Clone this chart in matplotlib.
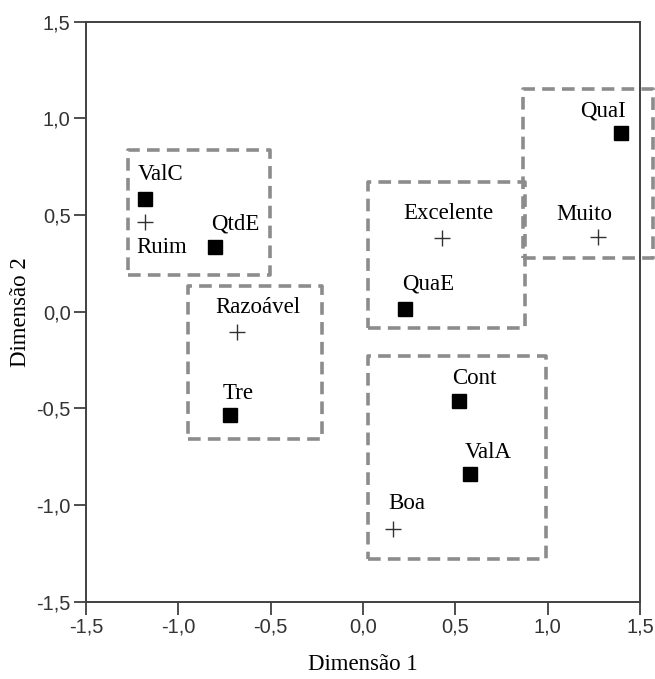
import matplotlib.pyplot as plt
from matplotlib.patches import Rectangle
from matplotlib.ticker import FuncFormatter

# pontos (categorias de resposta = +, variaveis = quadrado)
var_nomes = ['ValC', 'QtdE', 'Tre', 'QuaI', 'QuaE', 'Cont', 'ValA']
var_x = [-1.18, -0.80, -0.72, 1.395, 0.227, 0.518, 0.577]
var_y = [0.583, 0.333, -0.536, 0.923, 0.012, -0.461, -0.840]

cat_nomes = ['Ruim', 'Razoável', 'Muito', 'Excelente', 'Boa']
cat_x = [-1.18, -0.68, 1.274, 0.429, 0.164]
cat_y = [0.465, -0.104, 0.388, 0.379, -1.126]

# grupos (x0, y0, x1, y1)
grupos = [
    (-1.271, 0.190, -0.504, 0.836),
    (-0.946, -0.660, -0.224, 0.133),
    (0.025, -0.086, 0.877, 0.672),
    (0.868, 0.276, 1.568, 1.150),
    (0.025, -1.281, 0.991, -0.229),
]

ticks = [-1.5, -1.0, -0.5, 0.0, 0.5, 1.0, 1.5]

# deslocamento dos rotulos em pixels (dx, dy)
off_var = [(15, 25), (20, 23), (8, 22), (-18, 22), (23, 25), (16, 22), (19, 22)]
off_cat = [(17, -26), (20, 24), (-14, 22), (6, 25), (14, 26)]

fig = plt.figure(figsize=(6.55, 6.79), dpi=100)
ax = fig.add_axes([0.1313, 0.1138, 0.8458, 0.8542])

for x0, y0, x1, y1 in grupos:
    r = Rectangle((x0, y0), x1 - x0, y1 - y0, fill=False, edgecolor='#8c8c8c',
                  linewidth=2.6, linestyle=(0, (3.5, 2)), clip_on=False,
                  joinstyle='round', zorder=1)
    ax.add_patch(r)

ax.plot(var_x, var_y, 's', color='black', markersize=9.5, zorder=3)
ax.plot(cat_x, cat_y, '+', color='#333333', markersize=11, mew=1.0, zorder=3)

txt = dict(family='Liberation Serif', fontsize=16.5, color='black',
           ha='center', va='center', textcoords='offset pixels')
for n, x, y, o in zip(var_nomes, var_x, var_y, off_var):
    ax.annotate(n, (x, y), xytext=o, **txt)
for n, x, y, o in zip(cat_nomes, cat_x, cat_y, off_cat):
    ax.annotate(n, (x, y), xytext=o, **txt)

ax.set_xlim(-1.5, 1.5)
ax.set_ylim(-1.5, 1.5)
ax.set_xticks(ticks)
ax.set_yticks(ticks)
fmt = FuncFormatter(lambda v, p: ('%.1f' % v).replace('.', ',').replace('-0,0', '0,0'))
ax.xaxis.set_major_formatter(fmt)
ax.yaxis.set_major_formatter(fmt)
ax.tick_params(direction='out', length=9, width=1.3, color='#404040',
               labelsize=14.5, labelcolor='#333333', pad=2)
for lab in ax.get_xticklabels() + ax.get_yticklabels():
    lab.set_family('Liberation Sans')

for s in ax.spines.values():
    s.set_color('#404040')
    s.set_linewidth(1.4)

ax.set_xlabel('Dimensão 1', family='Liberation Serif', fontsize=16.5)
ax.set_ylabel('Dimensão 2', family='Liberation Serif', fontsize=16.5)
ax.xaxis.set_label_coords(0.5, -0.109)
ax.yaxis.set_label_coords(-0.119, 0.5)
ax.xaxis.label.set_va('center')
ax.yaxis.label.set_va('center')

fig.savefig('out.png', dpi=100)
